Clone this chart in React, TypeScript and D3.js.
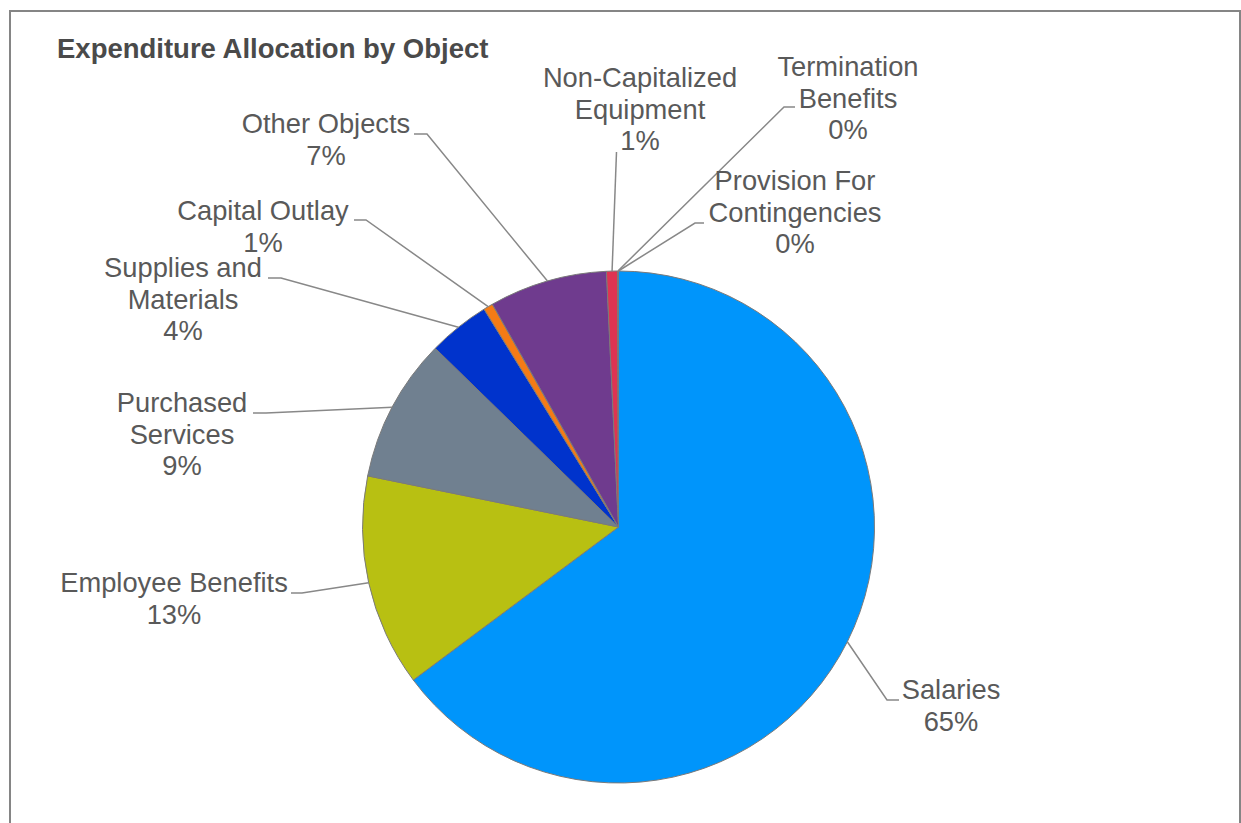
import React from "react";
import * as d3 from "d3";

const categories = [
  "Salaries",
  "Employee Benefits",
  "Purchased Services",
  "Supplies and Materials",
  "Capital Outlay",
  "Other Objects",
  "Non-Capitalized Equipment",
  "Termination Benefits",
  "Provision For Contingencies",
];
const values = [64.8, 13.4, 9.1, 3.9, 0.6, 7.45, 0.7, 0.03, 0.02];
const labelLines = [
  ["Salaries"],
  ["Employee Benefits"],
  ["Purchased", "Services"],
  ["Supplies and", "Materials"],
  ["Capital Outlay"],
  ["Other Objects"],
  ["Non-Capitalized", "Equipment"],
  ["Termination", "Benefits"],
  ["Provision For", "Contingencies"],
];
const colors = [
  "#0095fb",
  "#b8c012",
  "#708090",
  "#0033cc",
  "#f47b16",
  "#6f3b8e",
  "#de3452",
  "#8e8e8e",
  "#8e8e8e",
];
const title = "Expenditure Allocation by Object";

// label layout: text centre x, first baseline y, bend point, end of horizontal segment
const labelLayout = [
  { tx: 951, ty: 699, bx: 887, by: 700, ex: 899 },
  { tx: 174, ty: 592, bx: 302, by: 593, ex: 291 },
  { tx: 182, ty: 412, bx: 266, by: 413, ex: 253 },
  { tx: 183, ty: 277, bx: 281, by: 278, ex: 268 },
  { tx: 263, ty: 220, bx: 366, by: 220, ex: 354 },
  { tx: 326, ty: 133, bx: 427, by: 134, ex: 414 },
  { tx: 640, ty: 87, bx: 616.5, by: 152, ex: 616.5 },
  { tx: 848, ty: 76, bx: 784, by: 107, ex: 795 },
  { tx: 795, ty: 190, bx: 695, by: 223, ex: 704 },
];

const W = 1241;
const H = 823;
const cx = 618.5;
const cy = 527;
const R = 256;
const lineH = 31.5;

export default function App() {
  const total = d3.sum(values);
  const pie = d3
    .pie<number>()
    .sort(null)
    .value((d) => d);
  const arcs = pie(values);
  const arc = d3.arc<d3.PieArcDatum<number>>().innerRadius(0).outerRadius(R);
  const fmt = (v: number) => `${Math.round((v / total) * 100)}%`;

  return (
    <svg
      width={W}
      height={H}
      style={{ position: "absolute", left: 0, top: 0, background: "#fff" }}
      fontFamily="'Liberation Sans', Arial, sans-serif"
    >
      <rect x={0} y={0} width={W} height={H} fill="#fff" />
      <rect
        x={10}
        y={11}
        width={1230}
        height={840}
        fill="#fff"
        stroke="#858585"
        strokeWidth={2}
      />
      <text x={57} y={58} fontSize={27.5} fontWeight="bold" fill="#4a4a4a">
        {title}
      </text>
      <g transform={`translate(${cx},${cy})`}>
        {arcs.map((a, i) => (
          <path
            key={categories[i]}
            d={arc(a) || ""}
            fill={colors[i]}
            stroke="#7a7a7a"
            strokeWidth={1}
          />
        ))}
      </g>
      {arcs.map((a, i) => {
        const mid = (a.startAngle + a.endAngle) / 2;
        const sx = cx + R * Math.sin(mid);
        const sy = cy - R * Math.cos(mid);
        const L = labelLayout[i];
        return (
          <polyline
            key={"l" + i}
            points={`${sx},${sy} ${L.bx},${L.by} ${L.ex},${L.by}`}
            fill="none"
            stroke="#888888"
            strokeWidth={1.5}
          />
        );
      })}
      {arcs.map((a, i) => {
        const L = labelLayout[i];
        const lines = [...labelLines[i], fmt(values[i])];
        return (
          <text
            key={"t" + i}
            x={L.tx}
            y={L.ty}
            textAnchor="middle"
            fontSize={27.3}
            fill="#595959"
          >
            {lines.map((s, j) => (
              <tspan key={j} x={L.tx} y={L.ty + j * lineH}>
                {s}
              </tspan>
            ))}
          </text>
        );
      })}
    </svg>
  );
}
